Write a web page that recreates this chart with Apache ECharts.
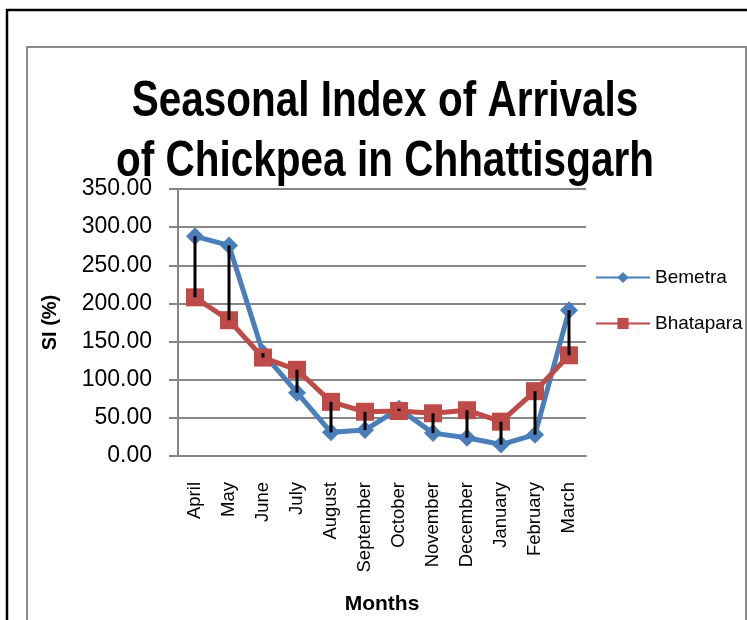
<!DOCTYPE html>
<html>
<head>
<meta charset="utf-8">
<title>Seasonal Index of Arrivals of Chickpea in Chhattisgarh</title>
<script src="https://cdn.jsdelivr.net/npm/echarts@6/dist/echarts.min.js"></script>
<style>
  html, body { margin: 0; padding: 0; background: #fff; }
  #chart { width: 747px; height: 620px; }
</style>
</head>
<body>
<div id="chart"></div>
<script>
// months on the x axis
const months = ['April', 'May', 'June', 'July', 'August', 'September',
  'October', 'November', 'December', 'January', 'February', 'March'];
// seasonal index (%)
const bemetra = [288, 276, 135, 83, 31, 34, 62, 30, 24, 15, 28, 191];
const bhatapara = [208, 178, 129, 113, 71, 58, 59, 56, 60, 45, 85, 132];
const yTicks = [0, 50, 100, 150, 200, 250, 300, 350];
const titleLines = ['Seasonal Index of Arrivals', 'of Chickpea in Chhattisgarh'];

const plain = "'Liberation Sans', Arial, sans-serif";

const chart = echarts.init(document.getElementById('chart'));

// hi-lo lines between the two series
const hiLo = months.map((m, i) => [i, bemetra[i], bhatapara[i]]);

// title drawn as squeezed text so it looks like the narrow bold face
const titleText = titleLines.map((t, i) => ({
  type: 'text',
  x: 385,
  y: 102 + i * 60,
  scaleX: 0.81,
  z: 10,
  style: {
    text: t,
    fontFamily: plain,
    fontWeight: 'bold',
    fontSize: 50,
    fill: '#000',
    align: 'center',
    verticalAlign: 'middle'
  }
}));

const option = {
  backgroundColor: '#fff',
  animation: false,
  graphic: [
    { type: 'rect', shape: { x: 7, y: 10, width: 800, height: 700 },
      style: { fill: 'none', stroke: '#000', lineWidth: 2.5 }, z: 0 },
    { type: 'rect', shape: { x: 27, y: 47, width: 719, height: 700 },
      style: { fill: 'none', stroke: '#8c8c8c', lineWidth: 2 }, z: 0 }
  ].concat(titleText),
  legend: {
    data: ['Bemetra', 'Bhatapara'],
    orient: 'vertical',
    left: 595,
    top: 268,
    padding: 0,
    itemWidth: 54,
    itemHeight: 14,
    itemGap: 27,
    textStyle: { fontFamily: plain, fontSize: 19, color: '#000' }
  },
  grid: { left: 178, top: 189, width: 408, height: 267 },
  xAxis: {
    type: 'category',
    data: months,
    boundaryGap: true,
    axisLine: { lineStyle: { color: '#868686', width: 2 } },
    axisTick: { show: false },
    axisLabel: {
      rotate: 90,
      margin: 26,
      interval: 0,
      fontFamily: plain,
      fontSize: 18.5,
      color: '#000'
    },
    name: 'Months',
    nameLocation: 'middle',
    nameGap: 138,
    nameTextStyle: { fontFamily: plain, fontWeight: 'bold', fontSize: 21, color: '#000' }
  },
  yAxis: {
    type: 'value',
    min: yTicks[0],
    max: yTicks[yTicks.length - 1],
    interval: 50,
    axisLine: { show: true, lineStyle: { color: '#868686', width: 2 } },
    axisTick: { show: true, length: 9, lineStyle: { color: '#868686', width: 2 } },
    splitLine: { lineStyle: { color: '#868686', width: 2 } },
    axisLabel: {
      margin: 26,
      fontFamily: plain,
      fontSize: 23,
      color: '#000',
      formatter: v => v.toFixed(2)
    },
    name: 'SI (%)',
    nameLocation: 'middle',
    nameRotate: 90,
    nameGap: 118,
    nameTextStyle: { fontFamily: plain, fontWeight: 'bold', fontSize: 20, color: '#000' }
  },
  series: [
    {
      name: 'Bemetra',
      type: 'line',
      data: bemetra,
      symbol: 'diamond',
      symbolSize: 18,
      color: '#4A7EBB',
      lineStyle: { width: 5, color: '#4A7EBB' },
      itemStyle: { color: '#4A7EBB' },
      z: 2
    },
    {
      name: 'Bhatapara',
      type: 'line',
      data: bhatapara,
      symbol: 'rect',
      symbolSize: 18,
      color: '#BE4B48',
      lineStyle: { width: 5, color: '#BE4B48' },
      itemStyle: { color: '#BE4B48' },
      z: 3
    },
    {
      name: 'hilo',
      type: 'custom',
      data: hiLo,
      encode: { x: 0, y: [1, 2] },
      z: 5,
      silent: true,
      renderItem: function (params, api) {
        const a = api.coord([api.value(0), api.value(1)]);
        const b = api.coord([api.value(0), api.value(2)]);
        return {
          type: 'line',
          shape: { x1: a[0], y1: a[1], x2: b[0], y2: b[1] },
          style: { stroke: '#000', lineWidth: 3 }
        };
      }
    }
  ]
};

chart.setOption(option);
</script>
</body>
</html>
